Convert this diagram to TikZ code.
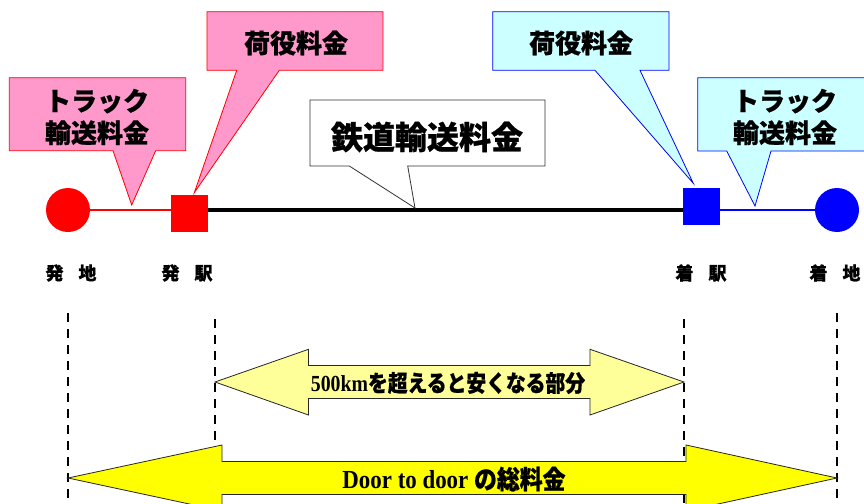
\documentclass[tikz,border=0pt]{standalone}
\usepackage{fontspec}
\usepackage{graphicx}
\setmainfont{Liberation Serif}
\newfontfamily\jp{Noto Sans CJK JP}[BoldFeatures={FakeBold=0.8}]
\definecolor{pinkfill}{HTML}{FF99CC}
\definecolor{cyanfill}{HTML}{CCFFFF}
\definecolor{paleyel}{HTML}{FFFF99}
\definecolor{yel}{HTML}{FFFF00}
\tikzset{
  pinkcall/.style={fill=pinkfill, draw=red, line width=0.8pt, line join=miter},
  cyancall/.style={fill=cyanfill, draw=blue, line width=0.8pt, line join=miter},
  whitecall/.style={fill=white, draw=black!80, line width=0.8pt, line join=miter},
  calltext/.style={font=\jp\bfseries\fontsize{26}{32}\selectfont, align=center, inner sep=0pt},
  stlabel/.style={font=\jp\bfseries\fontsize{18}{20}\selectfont, inner sep=0pt},
  guide/.style={draw=black, line width=1.8pt, dash pattern=on 9pt off 7pt},
  dblarrow/.style={draw=black!85, line width=0.8pt, line join=miter},
  endpt/.style={circle, minimum size=44pt, inner sep=0pt},
  station/.style={rectangle, minimum size=37pt, inner sep=0pt}
}
\begin{document}
\begin{tikzpicture}[x=1pt, y=-1pt]
\clip (0,0) rectangle (864,503);
\fill[white] (0,0) rectangle (864,503);

% guide lines
\coordinate (g1a) at (68,313);  \coordinate (g1b) at (68,503);
\coordinate (g2a) at (215,319); \coordinate (g2b) at (215,503);
\coordinate (g3a) at (684,319); \coordinate (g3b) at (684,503);
\coordinate (g4a) at (837,313); \coordinate (g4b) at (837,503);
\draw[guide] (g1a) -- (g1b);
\draw[guide] (g2a) -- (g2b);
\draw[guide] (g3a) -- (g3b);
\draw[guide] (g4a) -- (g4b);

% double arrows
\path[dblarrow, fill=paleyel] (215,382) -- (308.5,349.3) -- (308.5,365.5) -- (590,365.5) -- (590,349.3)
  -- (684,382) -- (590,415) -- (590,398.5) -- (308.5,398.5) -- (308.5,415) -- cycle;
\node[inner sep=0pt] (t500) at (448,383)
  {\scalebox{0.86}[1]{\fontsize{23}{25}\selectfont\bfseries 500km\jp を超えると安くなる部分}};

\path[dblarrow, fill=yel] (68,478) -- (222,445) -- (222,461.5) -- (686,461.5) -- (686,445)
  -- (837,478) -- (686,511) -- (686,494.5) -- (222,494.5) -- (222,511) -- cycle;
\node[inner sep=0pt] (tdoor) at (454,479)
  {\scalebox{0.88}[1]{\fontsize{26}{28}\selectfont\bfseries Door to door {\jp の総料金}}};

% route
\node[endpt, fill=red] (o1) at (68,210) {};
\node[station, fill=red] (s1) at (189.5,213.5) {};
\node[station, fill=blue] (s2) at (701.7,206.3) {};
\node[endpt, fill=blue] (o2) at (837,210) {};
\draw[red, line width=2.5pt] (o1.east) -- (o1.east -| s1.west);
\draw[black, line width=3.5pt] (o1.east -| s1.east) -- (o1.east -| s2.west);
\draw[blue, line width=2.5pt] (o2.west -| s2.east) -- (o2.west);

% callouts
\coordinate (tip1) at (131.7,205);
\path[pinkcall] (9.3,77.7) -- (185.7,77.7) -- (185.7,150.7) -- (155.7,150.7) -- (tip1)
  -- (113,150.7) -- (9.3,150.7) -- cycle;
\node[calltext] (c1) at (97,117) {トラック\\輸送料金};

\coordinate (tip2) at (194.3,192.7);
\path[pinkcall] (207,11.7) -- (383,11.7) -- (383,70.3) -- (279.3,70.3) -- (tip2)
  -- (236.7,70.3) -- (207,70.3) -- cycle;
\node[calltext] (c2) at (296,43) {荷役料金};

\coordinate (tip3) at (415,208);
\path[whitecall] (310,100) -- (545,100) -- (545,166) -- (407.7,166) -- (tip3)
  -- (349.3,166) -- (310,166) -- cycle;
\node[calltext, font=\jp\bfseries\fontsize{32}{36}\selectfont] (c3) at (427,137) {鉄道輸送料金};

\coordinate (tip4) at (693.3,183.3);
\path[cyancall] (492.7,11.7) -- (669,11.7) -- (669,70.3) -- (640,70.3) -- (tip4)
  -- (595,70.3) -- (492.7,70.3) -- cycle;
\node[calltext] (c4) at (581,43) {荷役料金};

\coordinate (tip5) at (755,206);
\path[cyancall] (697.7,77.7) -- (872,77.7) -- (872,151) -- (771,151) -- (tip5)
  -- (726.7,151) -- (697.7,151) -- cycle;
\node[calltext] (c5) at (785,117) {トラック\\輸送料金};

% station labels
\node[stlabel] (l1) at (71,273) {発\hspace{15pt}地};
\node[stlabel] (l2) at (187,273) {発\hspace{15pt}駅};
\node[stlabel] (l3) at (701,273) {着\hspace{15pt}駅};
\node[stlabel] (l4) at (835,273) {着\hspace{15pt}地};
\end{tikzpicture}
\end{document}
